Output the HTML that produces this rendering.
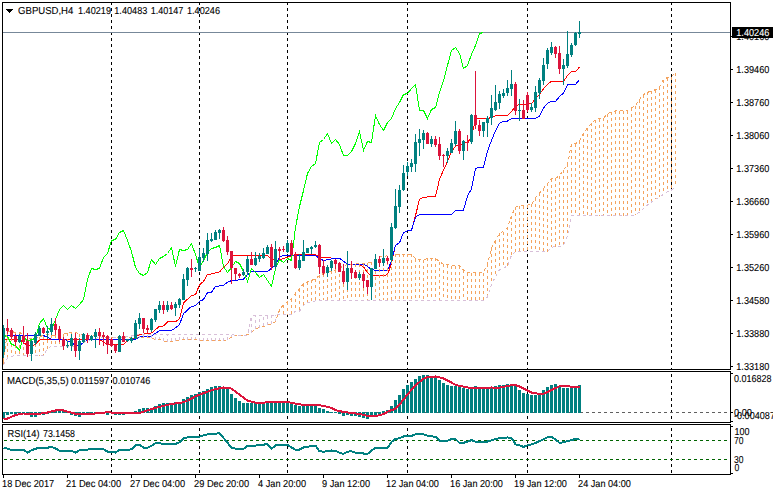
<!DOCTYPE html><html><head><meta charset="utf-8"><title>GBPUSD,H4</title>
<style>html,body{margin:0;padding:0;background:#fff;}svg{display:block}text{font-family:"Liberation Sans",sans-serif;font-size:10.1px;text-rendering:geometricPrecision;fill:#000;stroke:#000;stroke-width:.1px}</style></head><body>
<svg width="773" height="495" viewBox="0 0 773 495" shape-rendering="crispEdges">
<rect x="0" y="0" width="773" height="495" fill="#fff"/>
<g stroke="#000" stroke-width="1" stroke-dasharray="3 3">
<line x1="111.5" y1="2" x2="111.5" y2="474"/>
<line x1="199.5" y1="2" x2="199.5" y2="474"/>
<line x1="287.5" y1="2" x2="287.5" y2="474"/>
<line x1="407.5" y1="2" x2="407.5" y2="474"/>
<line x1="527.5" y1="2" x2="527.5" y2="474"/>
<line x1="671.5" y1="2" x2="671.5" y2="474"/>
</g>
<rect x="0" y="370" width="773" height="1" fill="#fff"/><rect x="0" y="423" width="773" height="1" fill="#fff"/>
<defs><clipPath id="cm"><rect x="3" y="3" width="727" height="366"/></clipPath></defs>
<g clip-path="url(#cm)">
<rect x="3" y="32" width="727" height="1" fill="#778899"/>
<polyline points="3.5,339.3 7.5,339.3 11.5,339.3 15.5,339.3 19.5,339.3 23.5,342.5 27.5,345.5 31.5,346.0 35.5,344.2 39.5,339.9 43.5,339.3 47.5,339.3 51.5,339.3 55.5,339.4 59.5,339.4 63.5,339.4 67.5,339.4 71.5,339.4 75.5,339.4 79.5,339.4 83.5,339.5 87.5,339.5 91.5,339.5 95.5,339.5 99.5,339.5 103.5,342.2 107.5,344.2 111.5,344.3 115.5,344.5 119.5,344.6 123.5,344.6 127.5,340.3 131.5,339.6 135.5,336.7 139.5,334.7 143.5,334.1 147.5,333.6 151.5,333.0 155.5,329.7 159.5,326.2 163.5,326.0 167.5,321.8 171.5,321.7 175.5,321.7 179.5,318.7 183.5,302.8 187.5,299.3 191.5,295.6 195.5,294.7 199.5,285.0 203.5,281.3 207.5,274.4 211.5,273.9 215.5,272.9 219.5,271.9 223.5,267.4 227.5,263.8 231.5,255.7 235.5,255.7 239.5,255.7 243.5,255.6 247.5,255.6 251.5,255.6 255.5,255.6 259.5,255.5 263.5,255.5 267.5,255.6 271.5,258.8 275.5,260.6 279.5,260.0 283.5,258.6 287.5,257.2 291.5,255.7 295.5,254.6 299.5,254.6 303.5,254.6 307.5,254.6 311.5,254.6 315.5,254.6 319.5,256.6 323.5,257.8 327.5,257.9 331.5,258.0 335.5,258.1 339.5,258.2 343.5,261.4 347.5,264.0 351.5,264.2 355.5,264.3 359.5,264.4 363.5,266.8 367.5,272.8 371.5,275.4 375.5,275.4 379.5,275.4 383.5,275.4 387.5,274.8 391.5,263.3 395.5,245.2 399.5,242.9 403.5,232.5 407.5,230.8 411.5,230.2 415.5,215.7 419.5,199.2 423.5,197.5 427.5,197.0 431.5,196.7 435.5,196.3 439.5,179.3 443.5,170.1 447.5,161.5 451.5,151.8 455.5,146.2 459.5,144.9 463.5,143.6 467.5,142.3 471.5,137.7 475.5,118.5 479.5,118.5 483.5,118.5 487.5,118.5 491.5,117.5 495.5,115.6 499.5,115.6 503.5,115.5 507.5,115.5 511.5,111.5 515.5,106.2 519.5,104.0 523.5,104.0 527.5,104.0 531.5,103.8 535.5,98.4 539.5,94.2 543.5,88.8 547.5,84.2 551.5,81.4 555.5,81.4 559.5,81.4 563.5,81.4 567.5,75.5 571.5,71.6 575.5,71.3 579.5,67.2" fill="none" stroke="#FF0000" stroke-width="1"/>
<polyline points="3.5,335.6 7.5,335.6 11.5,335.6 15.5,335.6 19.5,335.6 23.5,335.6 27.5,335.6 31.5,335.6 35.5,335.6 39.5,335.6 43.5,335.6 47.5,337.2 51.5,339.1 55.5,339.1 59.5,339.1 63.5,339.1 67.5,340.6 71.5,343.0 75.5,345.0 79.5,345.5 83.5,342.7 87.5,339.8 91.5,339.7 95.5,339.6 99.5,339.5 103.5,339.5 107.5,339.5 111.5,339.5 115.5,339.5 119.5,339.5 123.5,339.5 127.5,339.5 131.5,339.5 135.5,339.5 139.5,336.5 143.5,336.3 147.5,336.2 151.5,336.0 155.5,333.4 159.5,330.7 163.5,330.6 167.5,330.6 171.5,330.6 175.5,327.7 179.5,324.7 183.5,313.7 187.5,310.0 191.5,306.3 195.5,305.8 199.5,301.4 203.5,299.5 207.5,292.7 211.5,292.2 215.5,286.3 219.5,286.0 223.5,285.3 227.5,282.3 231.5,280.6 235.5,280.3 239.5,279.8 243.5,279.1 247.5,274.7 251.5,271.7 255.5,271.7 259.5,271.7 263.5,271.7 267.5,271.7 271.5,268.0 275.5,264.4 279.5,257.1 283.5,255.5 287.5,255.5 291.5,255.5 295.5,255.5 299.5,255.5 303.5,255.5 307.5,255.5 311.5,255.5 315.5,255.5 319.5,258.6 323.5,260.4 327.5,259.8 331.5,258.8 335.5,258.3 339.5,258.3 343.5,261.2 347.5,264.0 351.5,264.0 355.5,264.0 359.5,264.0 363.5,264.0 367.5,266.5 371.5,269.5 375.5,270.2 379.5,270.2 383.5,270.2 387.5,270.0 391.5,261.2 395.5,245.2 399.5,242.9 403.5,232.5 407.5,230.8 411.5,230.2 415.5,217.2 419.5,214.5 423.5,214.5 427.5,214.5 431.5,214.5 435.5,214.4 439.5,214.4 443.5,214.4 447.5,214.4 451.5,214.4 455.5,210.6 459.5,210.4 463.5,210.2 467.5,196.0 471.5,188.8 475.5,168.4 479.5,167.2 483.5,167.1 487.5,151.0 491.5,140.5 495.5,130.7 499.5,123.1 503.5,121.5 507.5,121.1 511.5,118.5 515.5,118.5 519.5,118.5 523.5,118.5 527.5,118.5 531.5,118.5 535.5,118.5 539.5,116.1 543.5,108.1 547.5,103.2 551.5,101.5 555.5,101.5 559.5,96.5 563.5,93.2 567.5,84.8 571.5,84.6 575.5,84.3 579.5,79.6" fill="none" stroke="#0000FF" stroke-width="1"/>
<line x1="3.5" y1="361.0" x2="3.5" y2="365.0" stroke="#F4A460" stroke-width="1" stroke-dasharray="3 3"/>
<line x1="7.5" y1="331.0" x2="7.5" y2="358.0" stroke="#F4A460" stroke-width="1" stroke-dasharray="3 3"/>
<line x1="11.5" y1="331.5" x2="11.5" y2="356.3" stroke="#F4A460" stroke-width="1" stroke-dasharray="3 3"/>
<line x1="15.5" y1="332.5" x2="15.5" y2="355.5" stroke="#F4A460" stroke-width="1" stroke-dasharray="3 3"/>
<line x1="19.5" y1="332.5" x2="19.5" y2="355.5" stroke="#F4A460" stroke-width="1" stroke-dasharray="3 3"/>
<line x1="23.5" y1="334.5" x2="23.5" y2="355.5" stroke="#F4A460" stroke-width="1" stroke-dasharray="3 3"/>
<line x1="27.5" y1="338.8" x2="27.5" y2="355.5" stroke="#F4A460" stroke-width="1" stroke-dasharray="3 3"/>
<line x1="31.5" y1="338.8" x2="31.5" y2="355.5" stroke="#F4A460" stroke-width="1" stroke-dasharray="3 3"/>
<line x1="35.5" y1="337.5" x2="35.5" y2="355.5" stroke="#F4A460" stroke-width="1" stroke-dasharray="3 3"/>
<line x1="39.5" y1="336.5" x2="39.5" y2="355.5" stroke="#F4A460" stroke-width="1" stroke-dasharray="3 3"/>
<line x1="43.5" y1="335.5" x2="43.5" y2="355.5" stroke="#F4A460" stroke-width="1" stroke-dasharray="3 3"/>
<line x1="47.5" y1="334.0" x2="47.5" y2="348.5" stroke="#F4A460" stroke-width="1" stroke-dasharray="3 3"/>
<line x1="51.5" y1="335.0" x2="51.5" y2="346.4" stroke="#F4A460" stroke-width="1" stroke-dasharray="3 3"/>
<line x1="55.5" y1="335.2" x2="55.5" y2="346.4" stroke="#F4A460" stroke-width="1" stroke-dasharray="3 3"/>
<line x1="59.5" y1="335.2" x2="59.5" y2="346.3" stroke="#F4A460" stroke-width="1" stroke-dasharray="3 3"/>
<line x1="63.5" y1="333.5" x2="63.5" y2="346.3" stroke="#F4A460" stroke-width="1" stroke-dasharray="3 3"/>
<line x1="67.5" y1="333.0" x2="67.5" y2="346.3" stroke="#F4A460" stroke-width="1" stroke-dasharray="3 3"/>
<line x1="71.5" y1="332.2" x2="71.5" y2="346.2" stroke="#F4A460" stroke-width="1" stroke-dasharray="3 3"/>
<line x1="75.5" y1="332.2" x2="75.5" y2="346.2" stroke="#F4A460" stroke-width="1" stroke-dasharray="3 3"/>
<line x1="79.5" y1="334.2" x2="79.5" y2="344.5" stroke="#F4A460" stroke-width="1" stroke-dasharray="3 3"/>
<line x1="83.5" y1="334.2" x2="83.5" y2="342.5" stroke="#F4A460" stroke-width="1" stroke-dasharray="3 3"/>
<line x1="87.5" y1="335.0" x2="87.5" y2="341.0" stroke="#F4A460" stroke-width="1" stroke-dasharray="3 3"/>
<line x1="91.5" y1="335.4" x2="91.5" y2="339.5" stroke="#F4A460" stroke-width="1" stroke-dasharray="3 3"/>
<line x1="95.5" y1="336.2" x2="95.5" y2="338.3" stroke="#F4A460" stroke-width="1" stroke-dasharray="3 3"/>
<line x1="131.5" y1="337.5" x2="131.5" y2="335.5" stroke="#D8BFD8" stroke-width="1" stroke-dasharray="3 3"/>
<line x1="135.5" y1="337.5" x2="135.5" y2="334.5" stroke="#D8BFD8" stroke-width="1" stroke-dasharray="3 3"/>
<line x1="139.5" y1="337.8" x2="139.5" y2="334.5" stroke="#D8BFD8" stroke-width="1" stroke-dasharray="3 3"/>
<line x1="143.5" y1="337.8" x2="143.5" y2="334.5" stroke="#D8BFD8" stroke-width="1" stroke-dasharray="3 3"/>
<line x1="147.5" y1="337.8" x2="147.5" y2="334.5" stroke="#D8BFD8" stroke-width="1" stroke-dasharray="3 3"/>
<line x1="151.5" y1="337.8" x2="151.5" y2="334.5" stroke="#D8BFD8" stroke-width="1" stroke-dasharray="3 3"/>
<line x1="155.5" y1="339.5" x2="155.5" y2="334.5" stroke="#D8BFD8" stroke-width="1" stroke-dasharray="3 3"/>
<line x1="159.5" y1="339.5" x2="159.5" y2="334.5" stroke="#D8BFD8" stroke-width="1" stroke-dasharray="3 3"/>
<line x1="163.5" y1="341.1" x2="163.5" y2="334.5" stroke="#D8BFD8" stroke-width="1" stroke-dasharray="3 3"/>
<line x1="167.5" y1="341.6" x2="167.5" y2="334.5" stroke="#D8BFD8" stroke-width="1" stroke-dasharray="3 3"/>
<line x1="171.5" y1="341.4" x2="171.5" y2="334.5" stroke="#D8BFD8" stroke-width="1" stroke-dasharray="3 3"/>
<line x1="175.5" y1="341.0" x2="175.5" y2="334.5" stroke="#D8BFD8" stroke-width="1" stroke-dasharray="3 3"/>
<line x1="179.5" y1="340.2" x2="179.5" y2="334.5" stroke="#D8BFD8" stroke-width="1" stroke-dasharray="3 3"/>
<line x1="183.5" y1="339.5" x2="183.5" y2="334.5" stroke="#D8BFD8" stroke-width="1" stroke-dasharray="3 3"/>
<line x1="187.5" y1="339.5" x2="187.5" y2="334.5" stroke="#D8BFD8" stroke-width="1" stroke-dasharray="3 3"/>
<line x1="191.5" y1="339.5" x2="191.5" y2="334.5" stroke="#D8BFD8" stroke-width="1" stroke-dasharray="3 3"/>
<line x1="195.5" y1="339.5" x2="195.5" y2="334.5" stroke="#D8BFD8" stroke-width="1" stroke-dasharray="3 3"/>
<line x1="199.5" y1="340.8" x2="199.5" y2="334.5" stroke="#D8BFD8" stroke-width="1" stroke-dasharray="3 3"/>
<line x1="203.5" y1="340.8" x2="203.5" y2="334.5" stroke="#D8BFD8" stroke-width="1" stroke-dasharray="3 3"/>
<line x1="207.5" y1="340.8" x2="207.5" y2="334.5" stroke="#D8BFD8" stroke-width="1" stroke-dasharray="3 3"/>
<line x1="211.5" y1="340.8" x2="211.5" y2="334.5" stroke="#D8BFD8" stroke-width="1" stroke-dasharray="3 3"/>
<line x1="215.5" y1="340.8" x2="215.5" y2="334.5" stroke="#D8BFD8" stroke-width="1" stroke-dasharray="3 3"/>
<line x1="219.5" y1="340.8" x2="219.5" y2="334.5" stroke="#D8BFD8" stroke-width="1" stroke-dasharray="3 3"/>
<line x1="223.5" y1="340.8" x2="223.5" y2="334.5" stroke="#D8BFD8" stroke-width="1" stroke-dasharray="3 3"/>
<line x1="227.5" y1="339.5" x2="227.5" y2="334.5" stroke="#D8BFD8" stroke-width="1" stroke-dasharray="3 3"/>
<line x1="231.5" y1="337.4" x2="231.5" y2="334.5" stroke="#D8BFD8" stroke-width="1" stroke-dasharray="3 3"/>
<line x1="251.5" y1="332.6" x2="251.5" y2="316.1" stroke="#D8BFD8" stroke-width="1" stroke-dasharray="3 3"/>
<line x1="255.5" y1="328.9" x2="255.5" y2="315.3" stroke="#D8BFD8" stroke-width="1" stroke-dasharray="3 3"/>
<line x1="259.5" y1="327.5" x2="259.5" y2="315.3" stroke="#D8BFD8" stroke-width="1" stroke-dasharray="3 3"/>
<line x1="263.5" y1="326.4" x2="263.5" y2="315.3" stroke="#D8BFD8" stroke-width="1" stroke-dasharray="3 3"/>
<line x1="267.5" y1="325.2" x2="267.5" y2="315.3" stroke="#D8BFD8" stroke-width="1" stroke-dasharray="3 3"/>
<line x1="271.5" y1="323.6" x2="271.5" y2="315.3" stroke="#D8BFD8" stroke-width="1" stroke-dasharray="3 3"/>
<line x1="275.5" y1="321.8" x2="275.5" y2="315.3" stroke="#D8BFD8" stroke-width="1" stroke-dasharray="3 3"/>
<line x1="279.5" y1="309.1" x2="279.5" y2="314.5" stroke="#F4A460" stroke-width="1" stroke-dasharray="3 3"/>
<line x1="283.5" y1="305.0" x2="283.5" y2="314.5" stroke="#F4A460" stroke-width="1" stroke-dasharray="3 3"/>
<line x1="287.5" y1="301.8" x2="287.5" y2="314.5" stroke="#F4A460" stroke-width="1" stroke-dasharray="3 3"/>
<line x1="291.5" y1="298.5" x2="291.5" y2="314.5" stroke="#F4A460" stroke-width="1" stroke-dasharray="3 3"/>
<line x1="295.5" y1="293.1" x2="295.5" y2="311.3" stroke="#F4A460" stroke-width="1" stroke-dasharray="3 3"/>
<line x1="299.5" y1="289.0" x2="299.5" y2="311.3" stroke="#F4A460" stroke-width="1" stroke-dasharray="3 3"/>
<line x1="303.5" y1="283.6" x2="303.5" y2="305.2" stroke="#F4A460" stroke-width="1" stroke-dasharray="3 3"/>
<line x1="307.5" y1="281.9" x2="307.5" y2="302.7" stroke="#F4A460" stroke-width="1" stroke-dasharray="3 3"/>
<line x1="311.5" y1="280.4" x2="311.5" y2="301.7" stroke="#F4A460" stroke-width="1" stroke-dasharray="3 3"/>
<line x1="315.5" y1="278.7" x2="315.5" y2="301.0" stroke="#F4A460" stroke-width="1" stroke-dasharray="3 3"/>
<line x1="319.5" y1="275.4" x2="319.5" y2="300.4" stroke="#F4A460" stroke-width="1" stroke-dasharray="3 3"/>
<line x1="323.5" y1="273.6" x2="323.5" y2="300.3" stroke="#F4A460" stroke-width="1" stroke-dasharray="3 3"/>
<line x1="327.5" y1="272.5" x2="327.5" y2="300.3" stroke="#F4A460" stroke-width="1" stroke-dasharray="3 3"/>
<line x1="331.5" y1="271.2" x2="331.5" y2="300.3" stroke="#F4A460" stroke-width="1" stroke-dasharray="3 3"/>
<line x1="335.5" y1="269.7" x2="335.5" y2="300.3" stroke="#F4A460" stroke-width="1" stroke-dasharray="3 3"/>
<line x1="339.5" y1="268.0" x2="339.5" y2="300.3" stroke="#F4A460" stroke-width="1" stroke-dasharray="3 3"/>
<line x1="343.5" y1="266.0" x2="343.5" y2="300.3" stroke="#F4A460" stroke-width="1" stroke-dasharray="3 3"/>
<line x1="347.5" y1="264.5" x2="347.5" y2="300.3" stroke="#F4A460" stroke-width="1" stroke-dasharray="3 3"/>
<line x1="351.5" y1="264.1" x2="351.5" y2="300.3" stroke="#F4A460" stroke-width="1" stroke-dasharray="3 3"/>
<line x1="355.5" y1="263.8" x2="355.5" y2="300.3" stroke="#F4A460" stroke-width="1" stroke-dasharray="3 3"/>
<line x1="359.5" y1="263.7" x2="359.5" y2="300.3" stroke="#F4A460" stroke-width="1" stroke-dasharray="3 3"/>
<line x1="363.5" y1="263.5" x2="363.5" y2="300.3" stroke="#F4A460" stroke-width="1" stroke-dasharray="3 3"/>
<line x1="367.5" y1="262.6" x2="367.5" y2="300.3" stroke="#F4A460" stroke-width="1" stroke-dasharray="3 3"/>
<line x1="371.5" y1="262.1" x2="371.5" y2="300.3" stroke="#F4A460" stroke-width="1" stroke-dasharray="3 3"/>
<line x1="375.5" y1="259.4" x2="375.5" y2="300.3" stroke="#F4A460" stroke-width="1" stroke-dasharray="3 3"/>
<line x1="379.5" y1="256.7" x2="379.5" y2="300.3" stroke="#F4A460" stroke-width="1" stroke-dasharray="3 3"/>
<line x1="383.5" y1="256.4" x2="383.5" y2="300.3" stroke="#F4A460" stroke-width="1" stroke-dasharray="3 3"/>
<line x1="387.5" y1="255.7" x2="387.5" y2="300.3" stroke="#F4A460" stroke-width="1" stroke-dasharray="3 3"/>
<line x1="391.5" y1="255.1" x2="391.5" y2="300.3" stroke="#F4A460" stroke-width="1" stroke-dasharray="3 3"/>
<line x1="395.5" y1="254.3" x2="395.5" y2="300.3" stroke="#F4A460" stroke-width="1" stroke-dasharray="3 3"/>
<line x1="399.5" y1="254.3" x2="399.5" y2="300.3" stroke="#F4A460" stroke-width="1" stroke-dasharray="3 3"/>
<line x1="403.5" y1="254.3" x2="403.5" y2="300.3" stroke="#F4A460" stroke-width="1" stroke-dasharray="3 3"/>
<line x1="407.5" y1="254.3" x2="407.5" y2="300.3" stroke="#F4A460" stroke-width="1" stroke-dasharray="3 3"/>
<line x1="411.5" y1="254.4" x2="411.5" y2="300.3" stroke="#F4A460" stroke-width="1" stroke-dasharray="3 3"/>
<line x1="415.5" y1="258.7" x2="415.5" y2="300.3" stroke="#F4A460" stroke-width="1" stroke-dasharray="3 3"/>
<line x1="419.5" y1="259.2" x2="419.5" y2="300.3" stroke="#F4A460" stroke-width="1" stroke-dasharray="3 3"/>
<line x1="423.5" y1="259.7" x2="423.5" y2="300.3" stroke="#F4A460" stroke-width="1" stroke-dasharray="3 3"/>
<line x1="427.5" y1="258.4" x2="427.5" y2="300.3" stroke="#F4A460" stroke-width="1" stroke-dasharray="3 3"/>
<line x1="431.5" y1="258.4" x2="431.5" y2="300.3" stroke="#F4A460" stroke-width="1" stroke-dasharray="3 3"/>
<line x1="435.5" y1="258.4" x2="435.5" y2="300.3" stroke="#F4A460" stroke-width="1" stroke-dasharray="3 3"/>
<line x1="439.5" y1="261.5" x2="439.5" y2="300.3" stroke="#F4A460" stroke-width="1" stroke-dasharray="3 3"/>
<line x1="443.5" y1="264.4" x2="443.5" y2="300.3" stroke="#F4A460" stroke-width="1" stroke-dasharray="3 3"/>
<line x1="447.5" y1="264.7" x2="447.5" y2="300.3" stroke="#F4A460" stroke-width="1" stroke-dasharray="3 3"/>
<line x1="451.5" y1="265.7" x2="451.5" y2="300.3" stroke="#F4A460" stroke-width="1" stroke-dasharray="3 3"/>
<line x1="455.5" y1="265.7" x2="455.5" y2="300.3" stroke="#F4A460" stroke-width="1" stroke-dasharray="3 3"/>
<line x1="459.5" y1="265.7" x2="459.5" y2="300.3" stroke="#F4A460" stroke-width="1" stroke-dasharray="3 3"/>
<line x1="463.5" y1="270.0" x2="463.5" y2="300.3" stroke="#F4A460" stroke-width="1" stroke-dasharray="3 3"/>
<line x1="467.5" y1="272.5" x2="467.5" y2="300.3" stroke="#F4A460" stroke-width="1" stroke-dasharray="3 3"/>
<line x1="471.5" y1="272.5" x2="471.5" y2="300.3" stroke="#F4A460" stroke-width="1" stroke-dasharray="3 3"/>
<line x1="475.5" y1="272.5" x2="475.5" y2="300.3" stroke="#F4A460" stroke-width="1" stroke-dasharray="3 3"/>
<line x1="479.5" y1="272.5" x2="479.5" y2="300.3" stroke="#F4A460" stroke-width="1" stroke-dasharray="3 3"/>
<line x1="483.5" y1="272.5" x2="483.5" y2="300.3" stroke="#F4A460" stroke-width="1" stroke-dasharray="3 3"/>
<line x1="487.5" y1="264.0" x2="487.5" y2="296.9" stroke="#F4A460" stroke-width="1" stroke-dasharray="3 3"/>
<line x1="491.5" y1="248.2" x2="491.5" y2="284.1" stroke="#F4A460" stroke-width="1" stroke-dasharray="3 3"/>
<line x1="495.5" y1="240.5" x2="495.5" y2="276.7" stroke="#F4A460" stroke-width="1" stroke-dasharray="3 3"/>
<line x1="499.5" y1="233.3" x2="499.5" y2="269.6" stroke="#F4A460" stroke-width="1" stroke-dasharray="3 3"/>
<line x1="503.5" y1="231.5" x2="503.5" y2="267.9" stroke="#F4A460" stroke-width="1" stroke-dasharray="3 3"/>
<line x1="507.5" y1="227.2" x2="507.5" y2="266.2" stroke="#F4A460" stroke-width="1" stroke-dasharray="3 3"/>
<line x1="511.5" y1="215.6" x2="511.5" y2="255.1" stroke="#F4A460" stroke-width="1" stroke-dasharray="3 3"/>
<line x1="515.5" y1="207.3" x2="515.5" y2="251.7" stroke="#F4A460" stroke-width="1" stroke-dasharray="3 3"/>
<line x1="519.5" y1="205.6" x2="519.5" y2="251.7" stroke="#F4A460" stroke-width="1" stroke-dasharray="3 3"/>
<line x1="523.5" y1="205.6" x2="523.5" y2="251.7" stroke="#F4A460" stroke-width="1" stroke-dasharray="3 3"/>
<line x1="527.5" y1="205.1" x2="527.5" y2="251.7" stroke="#F4A460" stroke-width="1" stroke-dasharray="3 3"/>
<line x1="531.5" y1="204.4" x2="531.5" y2="251.7" stroke="#F4A460" stroke-width="1" stroke-dasharray="3 3"/>
<line x1="535.5" y1="197.6" x2="535.5" y2="251.7" stroke="#F4A460" stroke-width="1" stroke-dasharray="3 3"/>
<line x1="539.5" y1="193.3" x2="539.5" y2="251.7" stroke="#F4A460" stroke-width="1" stroke-dasharray="3 3"/>
<line x1="543.5" y1="188.3" x2="543.5" y2="251.7" stroke="#F4A460" stroke-width="1" stroke-dasharray="3 3"/>
<line x1="547.5" y1="183.4" x2="547.5" y2="251.7" stroke="#F4A460" stroke-width="1" stroke-dasharray="3 3"/>
<line x1="551.5" y1="178.6" x2="551.5" y2="247.2" stroke="#F4A460" stroke-width="1" stroke-dasharray="3 3"/>
<line x1="555.5" y1="178.3" x2="555.5" y2="246.8" stroke="#F4A460" stroke-width="1" stroke-dasharray="3 3"/>
<line x1="559.5" y1="175.7" x2="559.5" y2="246.8" stroke="#F4A460" stroke-width="1" stroke-dasharray="3 3"/>
<line x1="563.5" y1="169.9" x2="563.5" y2="244.9" stroke="#F4A460" stroke-width="1" stroke-dasharray="3 3"/>
<line x1="567.5" y1="164.4" x2="567.5" y2="235.9" stroke="#F4A460" stroke-width="1" stroke-dasharray="3 3"/>
<line x1="571.5" y1="143.6" x2="571.5" y2="215.7" stroke="#F4A460" stroke-width="1" stroke-dasharray="3 3"/>
<line x1="575.5" y1="143.6" x2="575.5" y2="215.3" stroke="#F4A460" stroke-width="1" stroke-dasharray="3 3"/>
<line x1="579.5" y1="141.3" x2="579.5" y2="215.3" stroke="#F4A460" stroke-width="1" stroke-dasharray="3 3"/>
<line x1="583.5" y1="133.2" x2="583.5" y2="215.4" stroke="#F4A460" stroke-width="1" stroke-dasharray="3 3"/>
<line x1="587.5" y1="127.9" x2="587.5" y2="215.4" stroke="#F4A460" stroke-width="1" stroke-dasharray="3 3"/>
<line x1="591.5" y1="123.1" x2="591.5" y2="215.5" stroke="#F4A460" stroke-width="1" stroke-dasharray="3 3"/>
<line x1="595.5" y1="119.5" x2="595.5" y2="215.5" stroke="#F4A460" stroke-width="1" stroke-dasharray="3 3"/>
<line x1="599.5" y1="118.8" x2="599.5" y2="215.6" stroke="#F4A460" stroke-width="1" stroke-dasharray="3 3"/>
<line x1="603.5" y1="117.9" x2="603.5" y2="215.6" stroke="#F4A460" stroke-width="1" stroke-dasharray="3 3"/>
<line x1="607.5" y1="113.8" x2="607.5" y2="215.7" stroke="#F4A460" stroke-width="1" stroke-dasharray="3 3"/>
<line x1="611.5" y1="111.7" x2="611.5" y2="215.7" stroke="#F4A460" stroke-width="1" stroke-dasharray="3 3"/>
<line x1="615.5" y1="110.8" x2="615.5" y2="215.8" stroke="#F4A460" stroke-width="1" stroke-dasharray="3 3"/>
<line x1="619.5" y1="110.7" x2="619.5" y2="215.8" stroke="#F4A460" stroke-width="1" stroke-dasharray="3 3"/>
<line x1="623.5" y1="110.6" x2="623.5" y2="215.9" stroke="#F4A460" stroke-width="1" stroke-dasharray="3 3"/>
<line x1="627.5" y1="110.5" x2="627.5" y2="215.9" stroke="#F4A460" stroke-width="1" stroke-dasharray="3 3"/>
<line x1="631.5" y1="107.8" x2="631.5" y2="216.0" stroke="#F4A460" stroke-width="1" stroke-dasharray="3 3"/>
<line x1="635.5" y1="105.5" x2="635.5" y2="214.9" stroke="#F4A460" stroke-width="1" stroke-dasharray="3 3"/>
<line x1="639.5" y1="99.5" x2="639.5" y2="212.1" stroke="#F4A460" stroke-width="1" stroke-dasharray="3 3"/>
<line x1="643.5" y1="94.6" x2="643.5" y2="208.5" stroke="#F4A460" stroke-width="1" stroke-dasharray="3 3"/>
<line x1="647.5" y1="92.3" x2="647.5" y2="204.9" stroke="#F4A460" stroke-width="1" stroke-dasharray="3 3"/>
<line x1="651.5" y1="91.1" x2="651.5" y2="201.9" stroke="#F4A460" stroke-width="1" stroke-dasharray="3 3"/>
<line x1="655.5" y1="89.6" x2="655.5" y2="199.3" stroke="#F4A460" stroke-width="1" stroke-dasharray="3 3"/>
<line x1="659.5" y1="87.0" x2="659.5" y2="196.9" stroke="#F4A460" stroke-width="1" stroke-dasharray="3 3"/>
<line x1="663.5" y1="79.7" x2="663.5" y2="194.3" stroke="#F4A460" stroke-width="1" stroke-dasharray="3 3"/>
<line x1="667.5" y1="77.5" x2="667.5" y2="191.9" stroke="#F4A460" stroke-width="1" stroke-dasharray="3 3"/>
<line x1="671.5" y1="76.7" x2="671.5" y2="190.0" stroke="#F4A460" stroke-width="1" stroke-dasharray="3 3"/>
<line x1="675.5" y1="72.5" x2="675.5" y2="187.0" stroke="#F4A460" stroke-width="1" stroke-dasharray="3 3"/>
<polyline points="3.5,335.5 7.5,336.5 11.5,344.5 15.5,345.5 19.5,350.5 23.5,336.5 27.5,341.5 31.5,339.5 35.5,338.5 39.5,323.5 43.5,318.5 47.5,328.5 51.5,329.5 55.5,319.5 59.5,309.5 63.5,305.5 67.5,309.5 71.5,305.5 75.5,308.5 79.5,304.5 83.5,299.5 87.5,279.5 91.5,268.5 95.5,269.5 99.5,268.5 103.5,257.5 107.5,253.5 111.5,240.5 115.5,239.5 119.5,232.5 123.5,230.5 127.5,240.5 131.5,251.5 135.5,267.5 139.5,273.5 143.5,275.5 147.5,272.5 151.5,259.5 155.5,264.5 159.5,258.5 163.5,256.5 167.5,253.5 171.5,247.5 175.5,266.5 179.5,249.5 183.5,250.5 187.5,249.5 191.5,243.5 195.5,254.5 199.5,267.5 203.5,260.5 207.5,252.5 211.5,248.5 215.5,247.5 219.5,245.5 223.5,266.5 227.5,272.5 231.5,267.5 235.5,261.5 239.5,263.5 243.5,271.5 247.5,281.5 251.5,268.5 255.5,272.5 259.5,277.5 263.5,274.5 267.5,280.5 271.5,286.5 275.5,268.5 279.5,259.5 283.5,262.5 287.5,258.5 291.5,260.5 295.5,227.5 299.5,206.5 303.5,190.5 307.5,173.5 311.5,166.5 315.5,163.5 319.5,142.5 323.5,139.5 327.5,133.5 331.5,143.5 335.5,139.5 339.5,144.5 343.5,155.5 347.5,155.5 351.5,151.5 355.5,143.5 359.5,131.5 363.5,150.5 367.5,141.5 371.5,142.5 375.5,115.5 379.5,124.5 383.5,130.5 387.5,122.5 391.5,118.5 395.5,108.5 399.5,102.5 403.5,94.5 407.5,93.5 411.5,88.5 415.5,84.5 419.5,110.5 423.5,110.5 427.5,118.5 431.5,109.5 435.5,107.5 439.5,92.5 443.5,80.5 447.5,65.5 451.5,50.5 455.5,47.5 459.5,53.5 463.5,68.5 467.5,65.5 471.5,54.5 475.5,45.5 479.5,33.5 483.5,32.5" fill="none" stroke="#00FF00" stroke-width="1"/>
<polyline points="3.5,361.0 7.5,331.0 11.5,331.5 15.5,332.5 19.5,332.5 23.5,334.5 27.5,338.8 31.5,338.8 35.5,337.5 39.5,336.5 43.5,335.5 47.5,334.0 51.5,335.0 55.5,335.2 59.5,335.2 63.5,333.5 67.5,333.0 71.5,332.2 75.5,332.2 79.5,334.2 83.5,334.2 87.5,335.0 91.5,335.4 95.5,336.2 99.5,336.9 103.5,337.3 107.5,337.3 111.5,337.4 115.5,337.4 119.5,337.4 123.5,337.4 127.5,337.4 131.5,337.5 135.5,337.5 139.5,337.8 143.5,337.8 147.5,337.8 151.5,337.8 155.5,339.5 159.5,339.5 163.5,341.1 167.5,341.6 171.5,341.4 175.5,341.0 179.5,340.2 183.5,339.5 187.5,339.5 191.5,339.5 195.5,339.5 199.5,340.8 203.5,340.8 207.5,340.8 211.5,340.8 215.5,340.8 219.5,340.8 223.5,340.8 227.5,339.5 231.5,337.4 235.5,335.3 239.5,335.3 243.5,335.3 247.5,334.6 251.5,332.6 255.5,328.9 259.5,327.5 263.5,326.4 267.5,325.2 271.5,323.6 275.5,321.8 279.5,309.1 283.5,305.0 287.5,301.8 291.5,298.5 295.5,293.1 299.5,289.0 303.5,283.6 307.5,281.9 311.5,280.4 315.5,278.7 319.5,275.4 323.5,273.6 327.5,272.5 331.5,271.2 335.5,269.7 339.5,268.0 343.5,266.0 347.5,264.5 351.5,264.1 355.5,263.8 359.5,263.7 363.5,263.5 367.5,262.6 371.5,262.1 375.5,259.4 379.5,256.7 383.5,256.4 387.5,255.7 391.5,255.1 395.5,254.3 399.5,254.3 403.5,254.3 407.5,254.3 411.5,254.4 415.5,258.7 419.5,259.2 423.5,259.7 427.5,258.4 431.5,258.4 435.5,258.4 439.5,261.5 443.5,264.4 447.5,264.7 451.5,265.7 455.5,265.7 459.5,265.7 463.5,270.0 467.5,272.5 471.5,272.5 475.5,272.5 479.5,272.5 483.5,272.5 487.5,264.0 491.5,248.2 495.5,240.5 499.5,233.3 503.5,231.5 507.5,227.2 511.5,215.6 515.5,207.3 519.5,205.6 523.5,205.6 527.5,205.1 531.5,204.4 535.5,197.6 539.5,193.3 543.5,188.3 547.5,183.4 551.5,178.6 555.5,178.3 559.5,175.7 563.5,169.9 567.5,164.4 571.5,143.6 575.5,143.6 579.5,141.3 583.5,133.2 587.5,127.9 591.5,123.1 595.5,119.5 599.5,118.8 603.5,117.9 607.5,113.8 611.5,111.7 615.5,110.8 619.5,110.7 623.5,110.6 627.5,110.5 631.5,107.8 635.5,105.5 639.5,99.5 643.5,94.6 647.5,92.3 651.5,91.1 655.5,89.6 659.5,87.0 663.5,79.7 667.5,77.5 671.5,76.7 675.5,72.5" fill="none" stroke="#F4A460" stroke-width="1" stroke-dasharray="3 3"/>
<polyline points="3.5,365.0 7.5,358.0 11.5,356.3 15.5,355.5 19.5,355.5 23.5,355.5 27.5,355.5 31.5,355.5 35.5,355.5 39.5,355.5 43.5,355.5 47.5,348.5 51.5,346.4 55.5,346.4 59.5,346.3 63.5,346.3 67.5,346.3 71.5,346.2 75.5,346.2 79.5,344.5 83.5,342.5 87.5,341.0 91.5,339.5 95.5,338.3 99.5,337.3 103.5,337.3 107.5,337.2 111.5,337.2 115.5,337.2 119.5,337.1 123.5,337.1 127.5,336.6 131.5,335.5 135.5,334.5 139.5,334.5 143.5,334.5 147.5,334.5 151.5,334.5 155.5,334.5 159.5,334.5 163.5,334.5 167.5,334.5 171.5,334.5 175.5,334.5 179.5,334.5 183.5,334.5 187.5,334.5 191.5,334.5 195.5,334.5 199.5,334.5 203.5,334.5 207.5,334.5 211.5,334.5 215.5,334.5 219.5,334.5 223.5,334.5 227.5,334.5 231.5,334.5 235.5,335.3 239.5,335.3 243.5,335.3 247.5,335.3 251.5,316.1 255.5,315.3 259.5,315.3 263.5,315.3 267.5,315.3 271.5,315.3 275.5,315.3 279.5,314.5 283.5,314.5 287.5,314.5 291.5,314.5 295.5,311.3 299.5,311.3 303.5,305.2 307.5,302.7 311.5,301.7 315.5,301.0 319.5,300.4 323.5,300.3 327.5,300.3 331.5,300.3 335.5,300.3 339.5,300.3 343.5,300.3 347.5,300.3 351.5,300.3 355.5,300.3 359.5,300.3 363.5,300.3 367.5,300.3 371.5,300.3 375.5,300.3 379.5,300.3 383.5,300.3 387.5,300.3 391.5,300.3 395.5,300.3 399.5,300.3 403.5,300.3 407.5,300.3 411.5,300.3 415.5,300.3 419.5,300.3 423.5,300.3 427.5,300.3 431.5,300.3 435.5,300.3 439.5,300.3 443.5,300.3 447.5,300.3 451.5,300.3 455.5,300.3 459.5,300.3 463.5,300.3 467.5,300.3 471.5,300.3 475.5,300.3 479.5,300.3 483.5,300.3 487.5,296.9 491.5,284.1 495.5,276.7 499.5,269.6 503.5,267.9 507.5,266.2 511.5,255.1 515.5,251.7 519.5,251.7 523.5,251.7 527.5,251.7 531.5,251.7 535.5,251.7 539.5,251.7 543.5,251.7 547.5,251.7 551.5,247.2 555.5,246.8 559.5,246.8 563.5,244.9 567.5,235.9 571.5,215.7 575.5,215.3 579.5,215.3 583.5,215.4 587.5,215.4 591.5,215.5 595.5,215.5 599.5,215.6 603.5,215.6 607.5,215.7 611.5,215.7 615.5,215.8 619.5,215.8 623.5,215.9 627.5,215.9 631.5,216.0 635.5,214.9 639.5,212.1 643.5,208.5 647.5,204.9 651.5,201.9 655.5,199.3 659.5,196.9 663.5,194.3 667.5,191.9 671.5,190.0 675.5,187.0" fill="none" stroke="#D8BFD8" stroke-width="1" stroke-dasharray="3 3"/>
<rect x="3" y="325" width="1" height="33" fill="#008080"/><rect x="2" y="328" width="3" height="24" fill="#008080"/>
<rect x="7" y="319" width="1" height="15" fill="#DC143C"/><rect x="6" y="328" width="3" height="3" fill="#DC143C"/>
<rect x="11" y="328" width="1" height="11" fill="#DC143C"/><rect x="10" y="330" width="3" height="7" fill="#DC143C"/>
<rect x="15" y="334" width="1" height="12" fill="#DC143C"/><rect x="14" y="336" width="3" height="6" fill="#DC143C"/>
<rect x="19" y="334" width="1" height="9" fill="#008080"/><rect x="18" y="336" width="3" height="6" fill="#008080"/>
<rect x="23" y="326" width="1" height="18" fill="#DC143C"/><rect x="22" y="336" width="3" height="6" fill="#DC143C"/>
<rect x="27" y="333" width="1" height="24" fill="#DC143C"/><rect x="26" y="341" width="3" height="13" fill="#DC143C"/>
<rect x="31" y="340" width="1" height="21" fill="#008080"/><rect x="30" y="341" width="3" height="13" fill="#008080"/>
<rect x="35" y="332" width="1" height="13" fill="#008080"/><rect x="34" y="334" width="3" height="9" fill="#008080"/>
<rect x="39" y="326" width="1" height="10" fill="#008080"/><rect x="38" y="328" width="3" height="8" fill="#008080"/>
<rect x="43" y="327" width="1" height="7" fill="#DC143C"/><rect x="42" y="328" width="3" height="5" fill="#DC143C"/>
<rect x="47" y="326" width="1" height="13" fill="#008080"/><rect x="46" y="331" width="3" height="2" fill="#008080"/>
<rect x="51" y="318" width="1" height="17" fill="#008080"/><rect x="50" y="324" width="3" height="8" fill="#008080"/>
<rect x="55" y="318" width="1" height="17" fill="#DC143C"/><rect x="54" y="324" width="3" height="6" fill="#DC143C"/>
<rect x="59" y="326" width="1" height="16" fill="#DC143C"/><rect x="58" y="329" width="3" height="10" fill="#DC143C"/>
<rect x="63" y="337" width="1" height="13" fill="#DC143C"/><rect x="62" y="339" width="3" height="7" fill="#DC143C"/>
<rect x="67" y="341" width="1" height="7" fill="#008080"/><rect x="66" y="345" width="3" height="1" fill="#008080"/>
<rect x="71" y="334" width="1" height="17" fill="#008080"/><rect x="70" y="338" width="3" height="8" fill="#008080"/>
<rect x="75" y="333" width="1" height="24" fill="#DC143C"/><rect x="74" y="338" width="3" height="13" fill="#DC143C"/>
<rect x="79" y="338" width="1" height="22" fill="#008080"/><rect x="78" y="341" width="3" height="10" fill="#008080"/>
<rect x="83" y="333" width="1" height="10" fill="#008080"/><rect x="82" y="334" width="3" height="8" fill="#008080"/>
<rect x="87" y="333" width="1" height="10" fill="#DC143C"/><rect x="86" y="335" width="3" height="5" fill="#DC143C"/>
<rect x="91" y="335" width="1" height="6" fill="#008080"/><rect x="90" y="336" width="3" height="4" fill="#008080"/>
<rect x="95" y="329" width="1" height="19" fill="#008080"/><rect x="94" y="332" width="3" height="5" fill="#008080"/>
<rect x="99" y="328" width="1" height="17" fill="#DC143C"/><rect x="98" y="332" width="3" height="4" fill="#DC143C"/>
<rect x="103" y="332" width="1" height="14" fill="#DC143C"/><rect x="102" y="335" width="3" height="2" fill="#DC143C"/>
<rect x="107" y="335" width="1" height="19" fill="#DC143C"/><rect x="106" y="336" width="3" height="9" fill="#DC143C"/>
<rect x="111" y="338" width="1" height="9" fill="#DC143C"/><rect x="110" y="339" width="3" height="7" fill="#DC143C"/>
<rect x="115" y="344" width="1" height="9" fill="#DC143C"/><rect x="114" y="345" width="3" height="6" fill="#DC143C"/>
<rect x="119" y="335" width="1" height="17" fill="#008080"/><rect x="118" y="336" width="3" height="16" fill="#008080"/>
<rect x="123" y="332" width="1" height="10" fill="#DC143C"/><rect x="122" y="336" width="3" height="6" fill="#DC143C"/>
<rect x="127" y="339" width="1" height="3" fill="#008080"/><rect x="126" y="339" width="3" height="2" fill="#008080"/>
<rect x="131" y="337" width="1" height="6" fill="#008080"/><rect x="130" y="338" width="3" height="3" fill="#008080"/>
<rect x="135" y="320" width="1" height="19" fill="#008080"/><rect x="134" y="323" width="3" height="16" fill="#008080"/>
<rect x="139" y="313" width="1" height="16" fill="#008080"/><rect x="138" y="318" width="3" height="6" fill="#008080"/>
<rect x="143" y="318" width="1" height="15" fill="#DC143C"/><rect x="142" y="318" width="3" height="11" fill="#DC143C"/>
<rect x="147" y="325" width="1" height="8" fill="#DC143C"/><rect x="146" y="328" width="3" height="2" fill="#DC143C"/>
<rect x="151" y="318" width="1" height="14" fill="#008080"/><rect x="150" y="319" width="3" height="11" fill="#008080"/>
<rect x="155" y="309" width="1" height="13" fill="#008080"/><rect x="154" y="309" width="3" height="11" fill="#008080"/>
<rect x="159" y="301" width="1" height="12" fill="#008080"/><rect x="158" y="305" width="3" height="5" fill="#008080"/>
<rect x="163" y="301" width="1" height="13" fill="#DC143C"/><rect x="162" y="305" width="3" height="5" fill="#DC143C"/>
<rect x="167" y="301" width="1" height="11" fill="#008080"/><rect x="166" y="305" width="3" height="5" fill="#008080"/>
<rect x="171" y="302" width="1" height="8" fill="#DC143C"/><rect x="170" y="305" width="3" height="4" fill="#DC143C"/>
<rect x="175" y="302" width="1" height="14" fill="#008080"/><rect x="174" y="304" width="3" height="4" fill="#008080"/>
<rect x="179" y="298" width="1" height="10" fill="#008080"/><rect x="178" y="299" width="3" height="6" fill="#008080"/>
<rect x="183" y="274" width="1" height="26" fill="#008080"/><rect x="182" y="279" width="3" height="21" fill="#008080"/>
<rect x="187" y="267" width="1" height="19" fill="#008080"/><rect x="186" y="268" width="3" height="12" fill="#008080"/>
<rect x="191" y="259" width="1" height="18" fill="#DC143C"/><rect x="190" y="268" width="3" height="2" fill="#DC143C"/>
<rect x="195" y="267" width="1" height="5" fill="#008080"/><rect x="194" y="268" width="3" height="1" fill="#008080"/>
<rect x="199" y="249" width="1" height="22" fill="#008080"/><rect x="198" y="257" width="3" height="14" fill="#008080"/>
<rect x="203" y="248" width="1" height="14" fill="#008080"/><rect x="202" y="253" width="3" height="5" fill="#008080"/>
<rect x="207" y="233" width="1" height="28" fill="#008080"/><rect x="206" y="240" width="3" height="14" fill="#008080"/>
<rect x="211" y="233" width="1" height="9" fill="#008080"/><rect x="210" y="239" width="3" height="2" fill="#008080"/>
<rect x="215" y="230" width="1" height="10" fill="#008080"/><rect x="214" y="232" width="3" height="8" fill="#008080"/>
<rect x="219" y="229" width="1" height="10" fill="#008080"/><rect x="218" y="230" width="3" height="3" fill="#008080"/>
<rect x="223" y="227" width="1" height="15" fill="#DC143C"/><rect x="222" y="230" width="3" height="11" fill="#DC143C"/>
<rect x="227" y="236" width="1" height="19" fill="#DC143C"/><rect x="226" y="240" width="3" height="12" fill="#DC143C"/>
<rect x="231" y="251" width="1" height="33" fill="#DC143C"/><rect x="230" y="251" width="3" height="17" fill="#DC143C"/>
<rect x="235" y="268" width="1" height="12" fill="#DC143C"/><rect x="234" y="268" width="3" height="6" fill="#DC143C"/>
<rect x="239" y="273" width="1" height="5" fill="#DC143C"/><rect x="238" y="274" width="3" height="2" fill="#DC143C"/>
<rect x="243" y="269" width="1" height="7" fill="#008080"/><rect x="242" y="272" width="3" height="3" fill="#008080"/>
<rect x="247" y="256" width="1" height="19" fill="#008080"/><rect x="246" y="259" width="3" height="13" fill="#008080"/>
<rect x="251" y="252" width="1" height="13" fill="#DC143C"/><rect x="250" y="259" width="3" height="6" fill="#DC143C"/>
<rect x="255" y="252" width="1" height="14" fill="#008080"/><rect x="254" y="258" width="3" height="7" fill="#008080"/>
<rect x="259" y="253" width="1" height="9" fill="#008080"/><rect x="258" y="256" width="3" height="3" fill="#008080"/>
<rect x="263" y="248" width="1" height="11" fill="#008080"/><rect x="262" y="253" width="3" height="5" fill="#008080"/>
<rect x="267" y="245" width="1" height="9" fill="#008080"/><rect x="266" y="247" width="3" height="7" fill="#008080"/>
<rect x="271" y="244" width="1" height="26" fill="#DC143C"/><rect x="270" y="247" width="3" height="20" fill="#DC143C"/>
<rect x="275" y="241" width="1" height="28" fill="#008080"/><rect x="274" y="249" width="3" height="18" fill="#008080"/>
<rect x="279" y="247" width="1" height="13" fill="#DC143C"/><rect x="278" y="249" width="3" height="2" fill="#DC143C"/>
<rect x="283" y="246" width="1" height="6" fill="#DC143C"/><rect x="282" y="249" width="3" height="1" fill="#DC143C"/>
<rect x="287" y="240" width="1" height="13" fill="#008080"/><rect x="286" y="243" width="3" height="9" fill="#008080"/>
<rect x="291" y="240" width="1" height="16" fill="#DC143C"/><rect x="290" y="243" width="3" height="12" fill="#DC143C"/>
<rect x="295" y="252" width="1" height="17" fill="#DC143C"/><rect x="294" y="255" width="3" height="13" fill="#DC143C"/>
<rect x="299" y="254" width="1" height="16" fill="#008080"/><rect x="298" y="260" width="3" height="8" fill="#008080"/>
<rect x="303" y="240" width="1" height="21" fill="#008080"/><rect x="302" y="252" width="3" height="9" fill="#008080"/>
<rect x="307" y="248" width="1" height="5" fill="#008080"/><rect x="306" y="248" width="3" height="5" fill="#008080"/>
<rect x="311" y="246" width="1" height="8" fill="#008080"/><rect x="310" y="247" width="3" height="2" fill="#008080"/>
<rect x="315" y="241" width="1" height="7" fill="#008080"/><rect x="314" y="245" width="3" height="2" fill="#008080"/>
<rect x="319" y="244" width="1" height="30" fill="#DC143C"/><rect x="318" y="245" width="3" height="22" fill="#DC143C"/>
<rect x="323" y="260" width="1" height="15" fill="#DC143C"/><rect x="322" y="266" width="3" height="7" fill="#DC143C"/>
<rect x="327" y="265" width="1" height="12" fill="#008080"/><rect x="326" y="267" width="3" height="6" fill="#008080"/>
<rect x="331" y="260" width="1" height="11" fill="#008080"/><rect x="330" y="261" width="3" height="7" fill="#008080"/>
<rect x="335" y="259" width="1" height="10" fill="#DC143C"/><rect x="334" y="260" width="3" height="4" fill="#DC143C"/>
<rect x="339" y="262" width="1" height="10" fill="#DC143C"/><rect x="338" y="263" width="3" height="9" fill="#DC143C"/>
<rect x="343" y="264" width="1" height="20" fill="#DC143C"/><rect x="342" y="271" width="3" height="11" fill="#DC143C"/>
<rect x="347" y="251" width="1" height="39" fill="#008080"/><rect x="346" y="268" width="3" height="14" fill="#008080"/>
<rect x="351" y="261" width="1" height="18" fill="#DC143C"/><rect x="350" y="268" width="3" height="5" fill="#DC143C"/>
<rect x="355" y="270" width="1" height="8" fill="#DC143C"/><rect x="354" y="272" width="3" height="6" fill="#DC143C"/>
<rect x="359" y="272" width="1" height="8" fill="#008080"/><rect x="358" y="274" width="3" height="4" fill="#008080"/>
<rect x="363" y="272" width="1" height="16" fill="#DC143C"/><rect x="362" y="274" width="3" height="7" fill="#DC143C"/>
<rect x="367" y="280" width="1" height="14" fill="#DC143C"/><rect x="366" y="280" width="3" height="7" fill="#DC143C"/>
<rect x="371" y="268" width="1" height="32" fill="#008080"/><rect x="370" y="268" width="3" height="19" fill="#008080"/>
<rect x="375" y="254" width="1" height="15" fill="#008080"/><rect x="374" y="259" width="3" height="10" fill="#008080"/>
<rect x="379" y="256" width="1" height="11" fill="#DC143C"/><rect x="378" y="259" width="3" height="4" fill="#DC143C"/>
<rect x="383" y="249" width="1" height="17" fill="#008080"/><rect x="382" y="258" width="3" height="5" fill="#008080"/>
<rect x="387" y="256" width="1" height="8" fill="#DC143C"/><rect x="386" y="258" width="3" height="3" fill="#DC143C"/>
<rect x="391" y="223" width="1" height="39" fill="#008080"/><rect x="390" y="227" width="3" height="33" fill="#008080"/>
<rect x="395" y="189" width="1" height="40" fill="#008080"/><rect x="394" y="206" width="3" height="22" fill="#008080"/>
<rect x="399" y="185" width="1" height="28" fill="#008080"/><rect x="398" y="190" width="3" height="17" fill="#008080"/>
<rect x="403" y="165" width="1" height="26" fill="#008080"/><rect x="402" y="173" width="3" height="17" fill="#008080"/>
<rect x="407" y="162" width="1" height="14" fill="#008080"/><rect x="406" y="166" width="3" height="6" fill="#008080"/>
<rect x="411" y="159" width="1" height="13" fill="#008080"/><rect x="410" y="163" width="3" height="4" fill="#008080"/>
<rect x="415" y="134" width="1" height="38" fill="#008080"/><rect x="414" y="142" width="3" height="22" fill="#008080"/>
<rect x="419" y="129" width="1" height="27" fill="#008080"/><rect x="418" y="139" width="3" height="4" fill="#008080"/>
<rect x="423" y="130" width="1" height="19" fill="#008080"/><rect x="422" y="133" width="3" height="7" fill="#008080"/>
<rect x="427" y="132" width="1" height="12" fill="#DC143C"/><rect x="426" y="133" width="3" height="11" fill="#DC143C"/>
<rect x="431" y="136" width="1" height="11" fill="#008080"/><rect x="430" y="139" width="3" height="5" fill="#008080"/>
<rect x="435" y="136" width="1" height="11" fill="#DC143C"/><rect x="434" y="139" width="3" height="6" fill="#DC143C"/>
<rect x="439" y="137" width="1" height="23" fill="#DC143C"/><rect x="438" y="144" width="3" height="12" fill="#DC143C"/>
<rect x="443" y="154" width="1" height="13" fill="#DC143C"/><rect x="442" y="155" width="3" height="1" fill="#DC143C"/>
<rect x="447" y="148" width="1" height="15" fill="#008080"/><rect x="446" y="151" width="3" height="5" fill="#008080"/>
<rect x="451" y="139" width="1" height="14" fill="#008080"/><rect x="450" y="143" width="3" height="10" fill="#008080"/>
<rect x="455" y="121" width="1" height="25" fill="#008080"/><rect x="454" y="131" width="3" height="13" fill="#008080"/>
<rect x="459" y="129" width="1" height="25" fill="#DC143C"/><rect x="458" y="131" width="3" height="20" fill="#DC143C"/>
<rect x="463" y="140" width="1" height="20" fill="#008080"/><rect x="462" y="141" width="3" height="10" fill="#008080"/>
<rect x="467" y="135" width="1" height="16" fill="#DC143C"/><rect x="466" y="142" width="3" height="1" fill="#DC143C"/>
<rect x="471" y="114" width="1" height="30" fill="#008080"/><rect x="470" y="115" width="3" height="27" fill="#008080"/>
<rect x="475" y="71" width="1" height="58" fill="#DC143C"/><rect x="474" y="115" width="3" height="10" fill="#DC143C"/>
<rect x="479" y="120" width="1" height="16" fill="#DC143C"/><rect x="478" y="125" width="3" height="6" fill="#DC143C"/>
<rect x="483" y="122" width="1" height="15" fill="#008080"/><rect x="482" y="122" width="3" height="9" fill="#008080"/>
<rect x="487" y="116" width="1" height="21" fill="#008080"/><rect x="486" y="118" width="3" height="5" fill="#008080"/>
<rect x="491" y="95" width="1" height="30" fill="#008080"/><rect x="490" y="108" width="3" height="10" fill="#008080"/>
<rect x="495" y="85" width="1" height="26" fill="#008080"/><rect x="494" y="102" width="3" height="8" fill="#008080"/>
<rect x="499" y="91" width="1" height="18" fill="#008080"/><rect x="498" y="94" width="3" height="9" fill="#008080"/>
<rect x="503" y="89" width="1" height="9" fill="#008080"/><rect x="502" y="93" width="3" height="3" fill="#008080"/>
<rect x="507" y="80" width="1" height="16" fill="#008080"/><rect x="506" y="88" width="3" height="5" fill="#008080"/>
<rect x="511" y="70" width="1" height="26" fill="#008080"/><rect x="510" y="84" width="3" height="5" fill="#008080"/>
<rect x="515" y="82" width="1" height="33" fill="#DC143C"/><rect x="514" y="84" width="3" height="27" fill="#DC143C"/>
<rect x="519" y="99" width="1" height="22" fill="#008080"/><rect x="518" y="110" width="3" height="1" fill="#008080"/>
<rect x="523" y="100" width="1" height="19" fill="#DC143C"/><rect x="522" y="110" width="3" height="9" fill="#DC143C"/>
<rect x="527" y="92" width="1" height="20" fill="#DC143C"/><rect x="526" y="95" width="3" height="15" fill="#DC143C"/>
<rect x="531" y="103" width="1" height="9" fill="#008080"/><rect x="530" y="107" width="3" height="3" fill="#008080"/>
<rect x="535" y="86" width="1" height="26" fill="#008080"/><rect x="534" y="92" width="3" height="16" fill="#008080"/>
<rect x="539" y="78" width="1" height="21" fill="#008080"/><rect x="538" y="80" width="3" height="13" fill="#008080"/>
<rect x="543" y="58" width="1" height="27" fill="#008080"/><rect x="542" y="65" width="3" height="16" fill="#008080"/>
<rect x="547" y="48" width="1" height="21" fill="#008080"/><rect x="546" y="50" width="3" height="14" fill="#008080"/>
<rect x="551" y="42" width="1" height="13" fill="#008080"/><rect x="550" y="47" width="3" height="6" fill="#008080"/>
<rect x="555" y="46" width="1" height="12" fill="#DC143C"/><rect x="554" y="47" width="3" height="7" fill="#DC143C"/>
<rect x="559" y="46" width="1" height="28" fill="#DC143C"/><rect x="558" y="53" width="3" height="16" fill="#DC143C"/>
<rect x="563" y="59" width="1" height="26" fill="#008080"/><rect x="562" y="65" width="3" height="4" fill="#008080"/>
<rect x="567" y="31" width="1" height="37" fill="#008080"/><rect x="566" y="54" width="3" height="12" fill="#008080"/>
<rect x="571" y="43" width="1" height="14" fill="#008080"/><rect x="570" y="45" width="3" height="10" fill="#008080"/>
<rect x="575" y="32" width="1" height="14" fill="#008080"/><rect x="574" y="33" width="3" height="12" fill="#008080"/>
<rect x="579" y="21" width="1" height="17" fill="#008080"/><rect x="578" y="32" width="3" height="2" fill="#008080"/>
</g>
<defs><clipPath id="c2"><rect x="3" y="372" width="727" height="50"/></clipPath><clipPath id="c3"><rect x="3" y="425" width="727" height="49"/></clipPath></defs>
<g clip-path="url(#c2)">
<line x1="4" y1="412.5" x2="730" y2="412.5" stroke="#606060" stroke-width="1" stroke-dasharray="3 3"/>
<rect x="2" y="412" width="3" height="7" fill="#008080"/>
<rect x="6" y="412" width="3" height="3" fill="#008080"/>
<rect x="10" y="412" width="3" height="2" fill="#008080"/>
<rect x="14" y="412" width="3" height="2" fill="#008080"/>
<rect x="18" y="412" width="3" height="3" fill="#008080"/>
<rect x="22" y="412" width="3" height="2" fill="#008080"/>
<rect x="26" y="412" width="3" height="3" fill="#008080"/>
<rect x="30" y="412" width="3" height="5" fill="#008080"/>
<rect x="34" y="412" width="3" height="5" fill="#008080"/>
<rect x="38" y="412" width="3" height="3" fill="#008080"/>
<rect x="42" y="412" width="3" height="3" fill="#008080"/>
<rect x="46" y="412" width="3" height="2" fill="#008080"/>
<rect x="50" y="411" width="3" height="2" fill="#008080"/>
<rect x="54" y="410" width="3" height="3" fill="#008080"/>
<rect x="58" y="410" width="3" height="3" fill="#008080"/>
<rect x="62" y="410" width="3" height="3" fill="#008080"/>
<rect x="66" y="412" width="3" height="1" fill="#008080"/>
<rect x="70" y="412" width="3" height="3" fill="#008080"/>
<rect x="74" y="412" width="3" height="4" fill="#008080"/>
<rect x="78" y="412" width="3" height="5" fill="#008080"/>
<rect x="82" y="412" width="3" height="3" fill="#008080"/>
<rect x="86" y="412" width="3" height="3" fill="#008080"/>
<rect x="90" y="412" width="3" height="3" fill="#008080"/>
<rect x="94" y="412" width="3" height="2" fill="#008080"/>
<rect x="98" y="412" width="3" height="2" fill="#008080"/>
<rect x="102" y="412" width="3" height="1" fill="#008080"/>
<rect x="106" y="412" width="3" height="3" fill="#008080"/>
<rect x="110" y="412" width="3" height="1" fill="#008080"/>
<rect x="114" y="412" width="3" height="3" fill="#008080"/>
<rect x="118" y="412" width="3" height="3" fill="#008080"/>
<rect x="122" y="412" width="3" height="3" fill="#008080"/>
<rect x="126" y="412" width="3" height="2" fill="#008080"/>
<rect x="130" y="412" width="3" height="1" fill="#008080"/>
<rect x="134" y="411" width="3" height="2" fill="#008080"/>
<rect x="138" y="409" width="3" height="4" fill="#008080"/>
<rect x="142" y="408" width="3" height="5" fill="#008080"/>
<rect x="146" y="408" width="3" height="5" fill="#008080"/>
<rect x="150" y="408" width="3" height="5" fill="#008080"/>
<rect x="154" y="406" width="3" height="7" fill="#008080"/>
<rect x="158" y="404" width="3" height="9" fill="#008080"/>
<rect x="162" y="403" width="3" height="10" fill="#008080"/>
<rect x="166" y="403" width="3" height="10" fill="#008080"/>
<rect x="170" y="403" width="3" height="10" fill="#008080"/>
<rect x="174" y="402" width="3" height="11" fill="#008080"/>
<rect x="178" y="402" width="3" height="11" fill="#008080"/>
<rect x="182" y="399" width="3" height="14" fill="#008080"/>
<rect x="186" y="397" width="3" height="16" fill="#008080"/>
<rect x="190" y="395" width="3" height="18" fill="#008080"/>
<rect x="194" y="394" width="3" height="19" fill="#008080"/>
<rect x="198" y="392" width="3" height="21" fill="#008080"/>
<rect x="202" y="391" width="3" height="22" fill="#008080"/>
<rect x="206" y="389" width="3" height="24" fill="#008080"/>
<rect x="210" y="387" width="3" height="26" fill="#008080"/>
<rect x="214" y="386" width="3" height="27" fill="#008080"/>
<rect x="218" y="386" width="3" height="27" fill="#008080"/>
<rect x="222" y="387" width="3" height="26" fill="#008080"/>
<rect x="226" y="388" width="3" height="25" fill="#008080"/>
<rect x="230" y="394" width="3" height="19" fill="#008080"/>
<rect x="234" y="398" width="3" height="15" fill="#008080"/>
<rect x="238" y="401" width="3" height="12" fill="#008080"/>
<rect x="242" y="403" width="3" height="10" fill="#008080"/>
<rect x="246" y="403" width="3" height="10" fill="#008080"/>
<rect x="250" y="403" width="3" height="10" fill="#008080"/>
<rect x="254" y="403" width="3" height="10" fill="#008080"/>
<rect x="258" y="404" width="3" height="9" fill="#008080"/>
<rect x="262" y="403" width="3" height="10" fill="#008080"/>
<rect x="266" y="403" width="3" height="10" fill="#008080"/>
<rect x="270" y="403" width="3" height="10" fill="#008080"/>
<rect x="274" y="403" width="3" height="10" fill="#008080"/>
<rect x="278" y="403" width="3" height="10" fill="#008080"/>
<rect x="282" y="403" width="3" height="10" fill="#008080"/>
<rect x="286" y="403" width="3" height="10" fill="#008080"/>
<rect x="290" y="403" width="3" height="10" fill="#008080"/>
<rect x="294" y="405" width="3" height="8" fill="#008080"/>
<rect x="298" y="406" width="3" height="7" fill="#008080"/>
<rect x="302" y="406" width="3" height="7" fill="#008080"/>
<rect x="306" y="406" width="3" height="7" fill="#008080"/>
<rect x="310" y="406" width="3" height="7" fill="#008080"/>
<rect x="314" y="406" width="3" height="7" fill="#008080"/>
<rect x="318" y="408" width="3" height="5" fill="#008080"/>
<rect x="322" y="409" width="3" height="4" fill="#008080"/>
<rect x="326" y="411" width="3" height="2" fill="#008080"/>
<rect x="330" y="412" width="3" height="1" fill="#008080"/>
<rect x="334" y="412" width="3" height="1" fill="#008080"/>
<rect x="338" y="412" width="3" height="2" fill="#008080"/>
<rect x="342" y="412" width="3" height="4" fill="#008080"/>
<rect x="346" y="412" width="3" height="3" fill="#008080"/>
<rect x="350" y="412" width="3" height="4" fill="#008080"/>
<rect x="354" y="412" width="3" height="4" fill="#008080"/>
<rect x="358" y="412" width="3" height="5" fill="#008080"/>
<rect x="362" y="412" width="3" height="6" fill="#008080"/>
<rect x="366" y="412" width="3" height="7" fill="#008080"/>
<rect x="370" y="412" width="3" height="5" fill="#008080"/>
<rect x="374" y="412" width="3" height="4" fill="#008080"/>
<rect x="378" y="412" width="3" height="2" fill="#008080"/>
<rect x="382" y="411" width="3" height="2" fill="#008080"/>
<rect x="386" y="410" width="3" height="3" fill="#008080"/>
<rect x="390" y="406" width="3" height="7" fill="#008080"/>
<rect x="394" y="400" width="3" height="13" fill="#008080"/>
<rect x="398" y="395" width="3" height="18" fill="#008080"/>
<rect x="402" y="389" width="3" height="24" fill="#008080"/>
<rect x="406" y="385" width="3" height="28" fill="#008080"/>
<rect x="410" y="382" width="3" height="31" fill="#008080"/>
<rect x="414" y="379" width="3" height="34" fill="#008080"/>
<rect x="418" y="376" width="3" height="37" fill="#008080"/>
<rect x="422" y="375" width="3" height="38" fill="#008080"/>
<rect x="426" y="375" width="3" height="38" fill="#008080"/>
<rect x="430" y="376" width="3" height="37" fill="#008080"/>
<rect x="434" y="377" width="3" height="36" fill="#008080"/>
<rect x="438" y="380" width="3" height="33" fill="#008080"/>
<rect x="442" y="383" width="3" height="30" fill="#008080"/>
<rect x="446" y="385" width="3" height="28" fill="#008080"/>
<rect x="450" y="386" width="3" height="27" fill="#008080"/>
<rect x="454" y="386" width="3" height="27" fill="#008080"/>
<rect x="458" y="387" width="3" height="26" fill="#008080"/>
<rect x="462" y="388" width="3" height="25" fill="#008080"/>
<rect x="466" y="389" width="3" height="24" fill="#008080"/>
<rect x="470" y="388" width="3" height="25" fill="#008080"/>
<rect x="474" y="386" width="3" height="27" fill="#008080"/>
<rect x="478" y="387" width="3" height="26" fill="#008080"/>
<rect x="482" y="388" width="3" height="25" fill="#008080"/>
<rect x="486" y="389" width="3" height="24" fill="#008080"/>
<rect x="490" y="387" width="3" height="26" fill="#008080"/>
<rect x="494" y="386" width="3" height="27" fill="#008080"/>
<rect x="498" y="385" width="3" height="28" fill="#008080"/>
<rect x="502" y="385" width="3" height="28" fill="#008080"/>
<rect x="506" y="384" width="3" height="29" fill="#008080"/>
<rect x="510" y="384" width="3" height="29" fill="#008080"/>
<rect x="514" y="386" width="3" height="27" fill="#008080"/>
<rect x="518" y="390" width="3" height="23" fill="#008080"/>
<rect x="522" y="393" width="3" height="20" fill="#008080"/>
<rect x="526" y="394" width="3" height="19" fill="#008080"/>
<rect x="530" y="395" width="3" height="18" fill="#008080"/>
<rect x="534" y="395" width="3" height="18" fill="#008080"/>
<rect x="538" y="394" width="3" height="19" fill="#008080"/>
<rect x="542" y="390" width="3" height="23" fill="#008080"/>
<rect x="546" y="387" width="3" height="26" fill="#008080"/>
<rect x="550" y="385" width="3" height="28" fill="#008080"/>
<rect x="554" y="384" width="3" height="29" fill="#008080"/>
<rect x="558" y="386" width="3" height="27" fill="#008080"/>
<rect x="562" y="388" width="3" height="25" fill="#008080"/>
<rect x="566" y="388" width="3" height="25" fill="#008080"/>
<rect x="570" y="388" width="3" height="25" fill="#008080"/>
<rect x="574" y="388" width="3" height="25" fill="#008080"/>
<rect x="578" y="385" width="3" height="28" fill="#008080"/>
<polyline points="3.5,419.0 7.5,418.6 11.5,416.8 15.5,415.1 19.5,414.0 23.5,413.5 27.5,413.5 31.5,414.0 35.5,413.9 39.5,413.7 43.5,413.2 47.5,412.5 51.5,411.3 55.5,410.5 59.5,410.3 63.5,410.5 67.5,411.6 71.5,412.7 75.5,413.8 79.5,414.3 83.5,414.1 87.5,413.9 91.5,413.7 95.5,413.5 99.5,413.3 103.5,413.1 107.5,411.6 111.5,412.6 115.5,413.3 119.5,413.3 123.5,413.3 127.5,413.3 131.5,413.3 135.5,413.3 139.5,413.0 143.5,411.7 147.5,410.4 151.5,409.1 155.5,407.9 159.5,406.8 163.5,405.8 167.5,404.9 171.5,404.0 175.5,403.4 179.5,402.9 183.5,402.2 187.5,400.5 191.5,398.5 195.5,396.3 199.5,394.7 203.5,393.2 207.5,391.8 211.5,390.4 215.5,389.1 219.5,388.3 223.5,387.5 227.5,387.7 231.5,388.7 235.5,391.7 239.5,394.7 243.5,397.6 247.5,400.6 251.5,401.7 255.5,402.7 259.5,403.0 263.5,402.8 267.5,402.0 271.5,402.0 275.5,402.0 279.5,402.0 283.5,402.0 287.5,402.0 291.5,402.8 295.5,403.6 299.5,404.3 303.5,405.0 307.5,405.0 311.5,405.0 315.5,405.0 319.5,405.1 323.5,406.0 327.5,406.9 331.5,408.0 335.5,410.0 339.5,411.2 343.5,411.8 347.5,412.4 351.5,412.9 355.5,413.4 359.5,413.9 363.5,414.8 367.5,415.8 371.5,416.0 375.5,416.0 379.5,415.1 383.5,414.1 387.5,411.8 391.5,410.1 395.5,408.9 399.5,404.4 403.5,399.7 407.5,394.5 411.5,389.8 415.5,385.7 419.5,382.0 423.5,378.8 427.5,377.1 431.5,376.6 435.5,376.5 439.5,377.3 443.5,378.4 447.5,380.4 451.5,382.6 455.5,384.8 459.5,385.8 463.5,386.7 467.5,387.4 471.5,388.1 475.5,388.2 479.5,388.1 483.5,388.1 487.5,388.0 491.5,387.4 495.5,388.0 499.5,387.7 503.5,386.6 507.5,386.4 511.5,385.0 515.5,385.2 519.5,386.4 523.5,388.5 527.5,390.6 531.5,392.6 535.5,393.4 539.5,393.7 543.5,393.7 547.5,392.2 551.5,390.0 555.5,388.1 559.5,386.3 563.5,385.8 567.5,386.0 571.5,386.9 575.5,386.9 579.5,386.9" fill="none" stroke="#DC143C" stroke-width="2"/>
</g>
<g clip-path="url(#c3)">
<line x1="4" y1="440.5" x2="730" y2="440.5" stroke="#006400" stroke-width="1" stroke-dasharray="3 3"/>
<line x1="4" y1="459.5" x2="730" y2="459.5" stroke="#006400" stroke-width="1" stroke-dasharray="3 3"/>
<polyline points="3.5,447.9 7.5,448.6 11.5,449.9 15.5,449.9 19.5,449.9 23.5,450.0 27.5,452.5 31.5,450.3 35.5,448.7 39.5,447.9 43.5,447.8 47.5,447.7 51.5,447.0 55.5,448.4 59.5,450.7 63.5,451.4 67.5,451.4 71.5,450.9 75.5,452.6 79.5,450.3 83.5,449.8 87.5,449.6 91.5,449.2 95.5,448.8 99.5,448.9 103.5,449.2 107.5,451.5 111.5,452.1 115.5,452.6 119.5,449.9 123.5,449.9 127.5,449.9 131.5,449.3 135.5,445.3 139.5,444.9 143.5,447.5 147.5,447.9 151.5,445.8 155.5,443.1 159.5,443.0 163.5,444.1 167.5,444.1 171.5,444.1 175.5,443.9 179.5,442.4 183.5,438.3 187.5,437.3 191.5,436.7 195.5,436.7 199.5,436.6 203.5,435.3 207.5,434.3 211.5,433.9 215.5,433.7 219.5,433.2 223.5,437.9 227.5,442.8 231.5,447.7 235.5,448.7 239.5,448.8 243.5,448.8 247.5,446.0 251.5,445.8 255.5,445.7 259.5,444.7 263.5,444.7 267.5,444.0 271.5,448.9 275.5,445.3 279.5,444.7 283.5,444.7 287.5,444.7 291.5,447.4 295.5,449.9 299.5,449.6 303.5,447.4 307.5,446.9 311.5,445.7 315.5,445.7 319.5,451.3 323.5,451.6 327.5,451.3 331.5,450.5 335.5,450.9 339.5,452.8 343.5,453.9 347.5,451.7 351.5,451.3 355.5,452.7 359.5,452.7 363.5,453.5 367.5,454.0 371.5,450.5 375.5,447.9 379.5,447.9 383.5,447.9 387.5,447.9 391.5,442.0 395.5,439.0 399.5,438.2 403.5,436.5 407.5,436.0 411.5,435.9 415.5,434.3 419.5,434.0 423.5,434.4 427.5,435.7 431.5,436.2 435.5,436.9 439.5,440.7 443.5,440.8 447.5,440.8 451.5,439.1 455.5,439.1 459.5,443.0 463.5,442.8 467.5,441.7 471.5,440.1 475.5,441.7 479.5,441.9 483.5,441.9 487.5,441.5 491.5,440.3 495.5,439.1 499.5,438.2 503.5,437.8 507.5,437.5 511.5,437.8 515.5,444.3 519.5,445.4 523.5,446.9 527.5,445.4 531.5,444.4 535.5,442.9 539.5,441.1 543.5,439.3 547.5,437.3 551.5,437.0 555.5,439.2 559.5,442.9 563.5,442.2 567.5,441.1 571.5,440.0 575.5,439.0 579.5,438.8" fill="none" stroke="#008080" stroke-width="2"/>
</g>
<g fill="none" stroke="#000" stroke-width="1">
<rect x="2.5" y="2.5" width="728" height="367"/>
<rect x="2.5" y="371.5" width="728" height="51"/>
<rect x="2.5" y="424.5" width="728" height="50"/>
</g>
<g fill="#000">
<rect x="731" y="36" width="2" height="1"/>
<rect x="731" y="69" width="2" height="1"/>
<rect x="731" y="102" width="2" height="1"/>
<rect x="731" y="135" width="2" height="1"/>
<rect x="731" y="168" width="2" height="1"/>
<rect x="731" y="201" width="2" height="1"/>
<rect x="731" y="234" width="2" height="1"/>
<rect x="731" y="267" width="2" height="1"/>
<rect x="731" y="300" width="2" height="1"/>
<rect x="731" y="333" width="2" height="1"/>
<rect x="731" y="366" width="2" height="1"/>
<rect x="731" y="373" width="2" height="1"/>
<rect x="731" y="412" width="2" height="1"/>
<rect x="731" y="421" width="2" height="1"/>
<rect x="731" y="426" width="2" height="1"/>
<rect x="731" y="473" width="2" height="1"/>
<rect x="3" y="475" width="1" height="3"/>
<rect x="67" y="475" width="1" height="3"/>
<rect x="131" y="475" width="1" height="3"/>
<rect x="195" y="475" width="1" height="3"/>
<rect x="259" y="475" width="1" height="3"/>
<rect x="323" y="475" width="1" height="3"/>
<rect x="387" y="475" width="1" height="3"/>
<rect x="451" y="475" width="1" height="3"/>
<rect x="515" y="475" width="1" height="3"/>
<rect x="579" y="475" width="1" height="3"/>
</g>
<text x="736.3" y="40" textLength="33" lengthAdjust="spacingAndGlyphs">1.40160</text>
<text x="736.3" y="73" textLength="33" lengthAdjust="spacingAndGlyphs">1.39460</text>
<text x="736.3" y="106" textLength="33" lengthAdjust="spacingAndGlyphs">1.38760</text>
<text x="736.3" y="139" textLength="33" lengthAdjust="spacingAndGlyphs">1.38060</text>
<text x="736.3" y="172" textLength="33" lengthAdjust="spacingAndGlyphs">1.37360</text>
<text x="736.3" y="205" textLength="33" lengthAdjust="spacingAndGlyphs">1.36660</text>
<text x="736.3" y="238" textLength="33" lengthAdjust="spacingAndGlyphs">1.35960</text>
<text x="736.3" y="271" textLength="33" lengthAdjust="spacingAndGlyphs">1.35260</text>
<text x="736.3" y="304" textLength="33" lengthAdjust="spacingAndGlyphs">1.34580</text>
<text x="736.3" y="337" textLength="33" lengthAdjust="spacingAndGlyphs">1.33880</text>
<text x="736.3" y="370" textLength="33" lengthAdjust="spacingAndGlyphs">1.33180</text>
<rect x="732" y="27" width="41" height="11" fill="#000"/>
<text x="736.3" y="36" textLength="33" lengthAdjust="spacingAndGlyphs" style="fill:#fff;stroke:#fff">1.40246</text>
<text x="734" y="382" textLength="37.5" lengthAdjust="spacingAndGlyphs">0.016828</text>
<text x="734" y="416" textLength="18" lengthAdjust="spacingAndGlyphs">0.00</text>
<text x="734" y="419" textLength="41" lengthAdjust="spacingAndGlyphs">-0.004087</text>
<text x="734.5" y="435" textLength="15" lengthAdjust="spacingAndGlyphs">100</text>
<text x="734" y="444" textLength="9.5" lengthAdjust="spacingAndGlyphs">70</text>
<text x="734" y="463" textLength="9.5" lengthAdjust="spacingAndGlyphs">30</text>
<text x="734.5" y="471" textLength="4.8" lengthAdjust="spacingAndGlyphs">0</text>
<path d="M6 9h7l-3.5 4z" fill="#000" shape-rendering="crispEdges"/>
<text x="18.1" y="14" textLength="55.2" lengthAdjust="spacingAndGlyphs">GBPUSD,H4</text>
<text x="78" y="14" textLength="33" lengthAdjust="spacingAndGlyphs">1.40219</text>
<text x="114.3" y="14" textLength="33" lengthAdjust="spacingAndGlyphs">1.40483</text>
<text x="150.8" y="14" textLength="32.6" lengthAdjust="spacingAndGlyphs">1.40147</text>
<text x="187" y="14" textLength="33" lengthAdjust="spacingAndGlyphs">1.40246</text>
<text x="7" y="384" textLength="61.6" lengthAdjust="spacingAndGlyphs">MACD(5,35,5)</text>
<text x="71.1" y="384" textLength="38.2" lengthAdjust="spacingAndGlyphs">0.011597</text>
<text x="112.6" y="384" textLength="37.8" lengthAdjust="spacingAndGlyphs">0.010746</text>
<text x="7.5" y="437" textLength="32" lengthAdjust="spacingAndGlyphs">RSI(14)</text>
<text x="43" y="437" textLength="32" lengthAdjust="spacingAndGlyphs">73.1458</text>
<text x="2.1" y="487" textLength="52" lengthAdjust="spacingAndGlyphs">18 Dec 2017</text>
<text x="66.1" y="487" textLength="55" lengthAdjust="spacingAndGlyphs">21 Dec 04:00</text>
<text x="130.1" y="487" textLength="55" lengthAdjust="spacingAndGlyphs">27 Dec 04:00</text>
<text x="194.1" y="487" textLength="55" lengthAdjust="spacingAndGlyphs">29 Dec 20:00</text>
<text x="258.1" y="487" textLength="48" lengthAdjust="spacingAndGlyphs">4 Jan 20:00</text>
<text x="322.1" y="487" textLength="48" lengthAdjust="spacingAndGlyphs">9 Jan 12:00</text>
<text x="386.1" y="487" textLength="52.8" lengthAdjust="spacingAndGlyphs">12 Jan 04:00</text>
<text x="450.1" y="487" textLength="52.8" lengthAdjust="spacingAndGlyphs">16 Jan 20:00</text>
<text x="514.1" y="487" textLength="52.8" lengthAdjust="spacingAndGlyphs">19 Jan 12:00</text>
<text x="578.1" y="487" textLength="52.8" lengthAdjust="spacingAndGlyphs">24 Jan 04:00</text>
</svg></body></html>
